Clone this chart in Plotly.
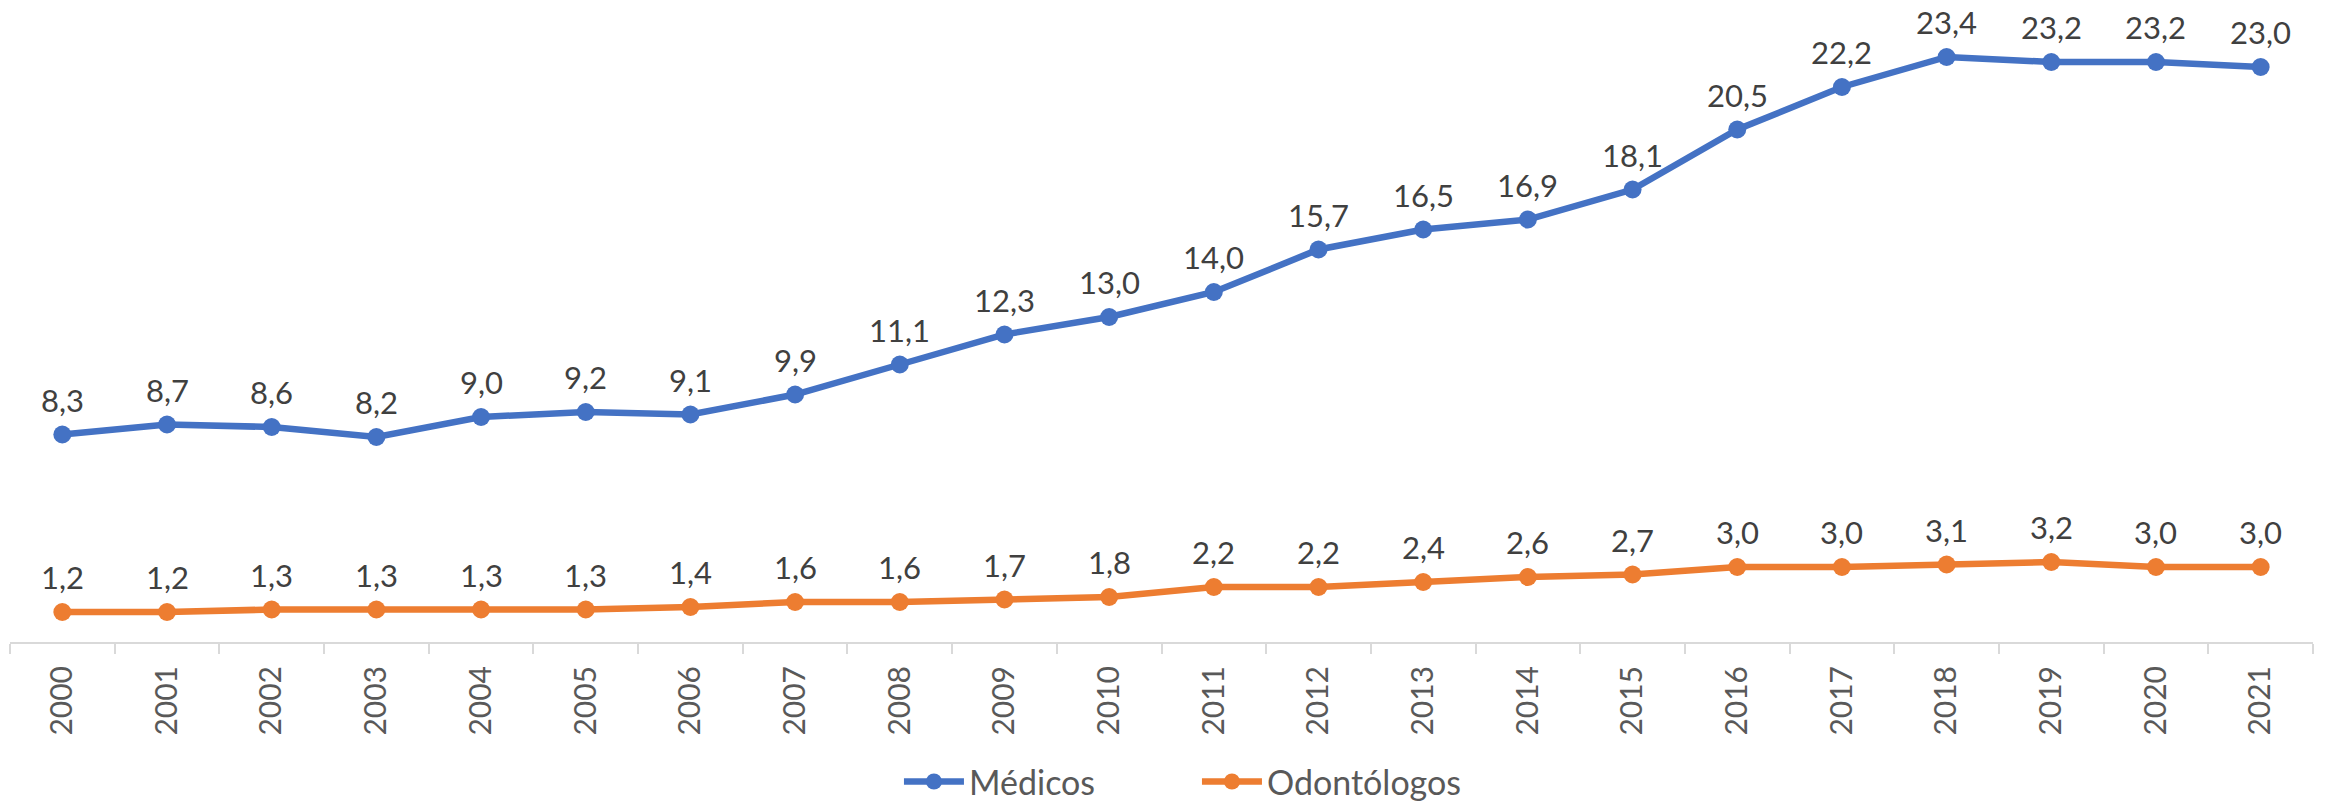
import plotly.graph_objects as go

anos = [str(a) for a in range(2000, 2022)]
medicos = [8.3, 8.7, 8.6, 8.2, 9.0, 9.2, 9.1, 9.9, 11.1, 12.3, 13.0, 14.0, 15.7, 16.5, 16.9, 18.1, 20.5, 22.2, 23.4, 23.2, 23.2, 23.0]
odontologos = [1.2, 1.2, 1.3, 1.3, 1.3, 1.3, 1.4, 1.6, 1.6, 1.7, 1.8, 2.2, 2.2, 2.4, 2.6, 2.7, 3.0, 3.0, 3.1, 3.2, 3.0, 3.0]

azul = "#4472C4"
laranja = "#ED7D31"
fonte = "Lato, sans-serif"

fig = go.Figure()
fig.add_trace(go.Scatter(x=anos, y=medicos, name="Médicos", mode="lines+markers",
                         line=dict(color=azul, width=6.5), marker=dict(size=18, color=azul)))
fig.add_trace(go.Scatter(x=anos, y=odontologos, name="Odontólogos", mode="lines+markers",
                         line=dict(color=laranja, width=6.5), marker=dict(size=18, color=laranja)))

# rotulos de dados acima dos pontos, com virgula decimal (x = indice da categoria)
for serie in (medicos, odontologos):
    for i, v in enumerate(serie):
        fig.add_annotation(x=i, y=v, text=f"{v:.1f}".replace(".", ","), showarrow=False, borderpad=0,
                           yanchor="middle", yshift=35, font=dict(size=31, color="#404040", family=fonte))

# margens compensam os 8px de margem do body da pagina html
fig.update_layout(
    width=2326, height=802,
    margin=dict(l=2, r=21, t=9, b=168, autoexpand=False),
    plot_bgcolor="white", paper_bgcolor="white",
    font=dict(family=fonte, color="#595959", size=28),
    showlegend=True,
    legend=dict(orientation="h", x=0.386, xanchor="left", yref="container", y=0.035, yanchor="middle",
                font=dict(size=34, color="#595959"), itemwidth=60, entrywidth=223, entrywidthmode="pixels"),
)
fig.update_xaxes(type="category", categoryarray=anos, range=[-0.5, len(anos) - 0.5], tickangle=-90,
                 automargin=False, showline=True, linecolor="#D9D9D9", linewidth=2,
                 ticks="outside", tickson="boundaries", ticklen=10, tickcolor="#D9D9D9", tickwidth=2,
                 ticklabelstandoff=10, showgrid=False, tickfont=dict(size=30, color="#595959"))
fig.update_yaxes(range=[0, 25], visible=False, showgrid=False)

fig.write_html("out.html")
